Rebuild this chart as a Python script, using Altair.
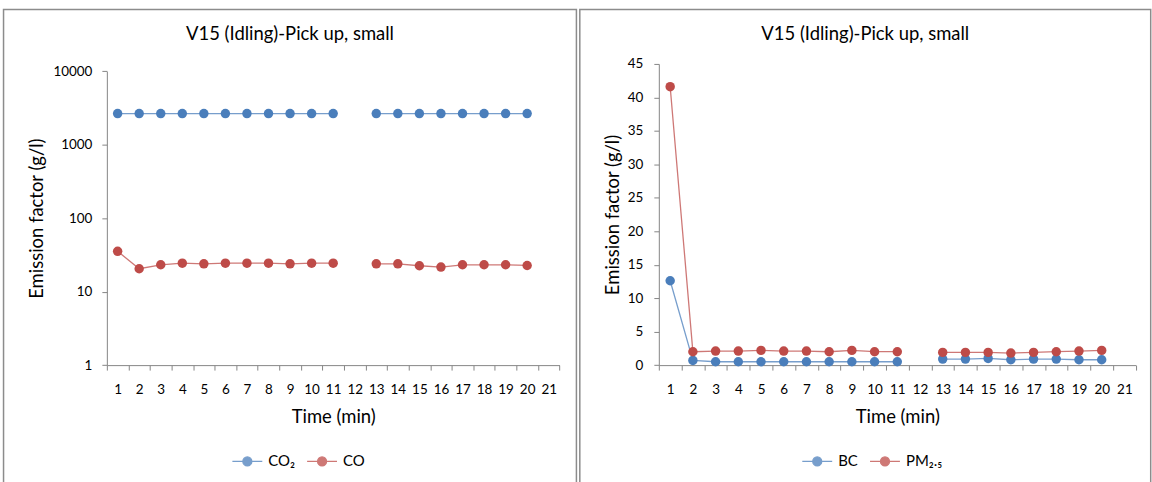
import altair as alt
import pandas as pd

# Measured minutes (minute 12 has no reading)
minutes = [1, 2, 3, 4, 5, 6, 7, 8, 9, 10, 11, 13, 14, 15, 16, 17, 18, 19, 20]
time_ticks = [1, 2, 3, 4, 5, 6, 7, 8, 9, 10, 11, 12, 13, 14, 15, 16, 17, 18, 19, 20, 21]

# Emission factors, g/l
co2 = [2650, 2650, 2650, 2650, 2650, 2650, 2650, 2650, 2650, 2650, 2650,
       2650, 2650, 2650, 2650, 2650, 2650, 2650, 2650]
co = [35.4, 20.5, 23.2, 24.4, 23.9, 24.4, 24.4, 24.4, 23.9, 24.4, 24.4,
      23.9, 23.9, 22.5, 21.6, 23.2, 23.2, 23.2, 22.7]
bc = [12.6, 0.7, 0.5, 0.5, 0.5, 0.5, 0.5, 0.5, 0.5, 0.5, 0.5,
      0.9, 0.9, 1.0, 0.8, 0.9, 0.9, 0.8, 0.8]
pm25 = [41.6, 2.0, 2.1, 2.1, 2.2, 2.1, 2.1, 2.0, 2.2, 2.0, 2.0,
        1.9, 1.9, 1.9, 1.8, 1.9, 2.0, 2.1, 2.2]

title_text = "V15 (Idling)-Pick up, small"
series_left = ["CO₂", "CO"]
series_right = ["BC", "PM₂.₅"]
colors = ["#4a7ebb", "#be4b48"]

FONT = "Lato"
GREY = "#868686"
TICK_FS = 13.5
TITLE_FS = 18.5
# legend glyph: short line with a dot in the middle
LEGEND_GLYPH = "M-1,0H1M-0.3,0A0.3,0.3,0,1,0,0.3,0A0.3,0.3,0,1,0,-0.3,0Z"


def long_frame(names, columns):
    rows = []
    for name, vals in zip(names, columns):
        for m, v in zip(minutes, vals):
            rows.append({"series": name, "minute": m, "value": v,
                         "segment": "a" if m < 12 else "b"})
    return pd.DataFrame(rows)


def panel(df, names, y_scale, y_axis, width, height, frame, legend_x, legend_y):
    x_enc = alt.X(
        "minute:O",
        scale=alt.Scale(domain=time_ticks, paddingInner=0, paddingOuter=0),
        axis=alt.Axis(
            title="Time (min)", labelAngle=0, tickBand="extent",
            domainColor=GREY, tickColor=GREY, tickSize=5,
            labelFont=FONT, labelFontSize=TICK_FS, labelColor="#000000", labelPadding=12,
            titleFont=FONT, titleFontSize=TITLE_FS, titleFontWeight="normal",
            titleColor="#000000", titlePadding=12,
        ),
    )
    y_enc = alt.Y("value:Q", scale=y_scale, axis=y_axis)
    color_enc = alt.Color(
        "series:N",
        scale=alt.Scale(domain=names, range=colors),
        sort=names,
        legend=alt.Legend(
            title=None, orient="none", direction="horizontal",
            legendX=legend_x, legendY=legend_y,
            symbolType=LEGEND_GLYPH, symbolSize=900, symbolStrokeWidth=1.3,
            labelFont=FONT, labelFontSize=15, labelColor="#000000",
            labelOffset=5, columnPadding=9, padding=0,
        ),
    )
    base = alt.Chart(df)
    lines = base.mark_line(strokeWidth=1.3, opacity=0.75).encode(
        x=x_enc, y=y_enc, color=color_enc, detail="segment:N")
    dots = base.mark_point(filled=True, size=90, opacity=1).encode(
        x=x_enc, y=y_enc, color=color_enc)
    border = alt.Chart(pd.DataFrame({"k": [0]})).mark_rect(
        fill="transparent", stroke="#8c8c8c", strokeWidth=1.5
    ).encode(x=alt.value(frame[0]), x2=alt.value(frame[1]),
             y=alt.value(frame[2]), y2=alt.value(frame[3]))
    return alt.layer(border, lines, dots).properties(
        width=width, height=height,
        title=alt.Title(title_text, font=FONT, fontSize=TITLE_FS, fontWeight="normal",
                        color="#000000", offset=14, dy=49, frame="bounds",
                        anchor="middle"),
    )


PANEL_H = 302.3

left_y_axis = alt.Axis(
    title="Emission factor (g/l)", values=[1, 10, 100, 1000, 10000], format="d",
    grid=False, domainColor=GREY, tickColor=GREY, tickSize=5,
    labelFont=FONT, labelFontSize=TICK_FS, labelColor="#000000", labelPadding=10,
    titleFont=FONT, titleFontSize=TITLE_FS, titleFontWeight="normal",
    titleColor="#000000", titlePadding=6,
)
right_y_axis = alt.Axis(
    title="Emission factor (g/l)", values=list(range(0, 50, 5)),
    grid=False, domainColor=GREY, tickColor=GREY, tickSize=5,
    labelFont=FONT, labelFontSize=TICK_FS, labelColor="#000000", labelPadding=11,
    titleFont=FONT, titleFontSize=TITLE_FS, titleFontWeight="normal",
    titleColor="#000000", titlePadding=5,
)

left = panel(
    long_frame(series_left, [co2, co]), series_left,
    alt.Scale(type="log", domain=[1, 10000], range=[PANEL_H, 7.3]),
    left_y_axis, 454.3, PANEL_H,
    (-103.7, 471.3, -54.7, 430), 125, 383,
)
right = panel(
    long_frame(series_right, [bc, pm25]), series_right,
    alt.Scale(domain=[0, 45], nice=False),
    right_y_axis, 478.7, PANEL_H,
    (-79.3, 493.7, -54.7, 430), 143, 383,
)

chart = alt.hconcat(left, right, spacing=0).resolve_scale(
    color="independent", x="independent", y="independent"
).resolve_legend(color="independent").configure(
    background="#ffffff",
    padding={"left": 2.25, "top": 7.25, "right": 0, "bottom": 0},
).configure_view(stroke=None)

chart.save("out.html", embed_options={"renderer": "svg", "actions": False})
